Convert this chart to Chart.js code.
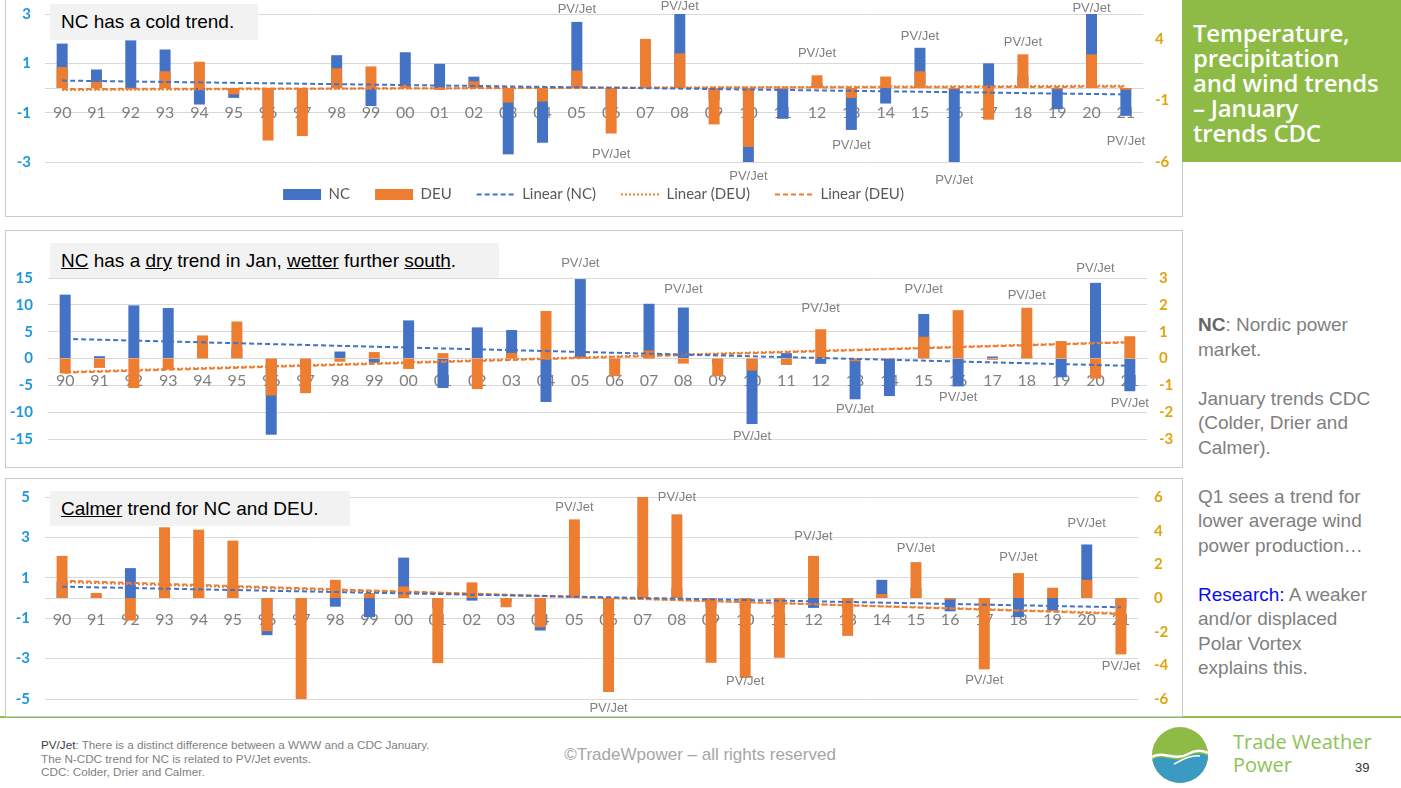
<!DOCTYPE html>
<html>
<head>
<meta charset="utf-8">
<script src="https://cdn.jsdelivr.net/npm/chart.js@4.4.0/dist/chart.umd.min.js"></script>
<style>
body { margin: 0; background: #fff; }
#slide { position: relative; width: 1401px; height: 788px; overflow: hidden; font-family: "Liberation Sans", Arial, sans-serif; }
.panel { position: absolute; box-sizing: border-box; border: 1px solid #C9C9C9; background: #fff; }
canvas { position: absolute; }
.titlebox { position: absolute; background: #F2F2F2; color: #000; font-size: 19px; box-sizing: border-box; padding-left: 11px; display: flex; align-items: center; white-space: nowrap; }
#greenbox { position: absolute; left: 1182px; top: 0; width: 219px; height: 162px; background: #8DBB45; color: #fff; font-family: "Open Sans", sans-serif; font-weight: 600; font-size: 24px; line-height: 25px; letter-spacing: -0.2px; box-sizing: border-box; padding: 20px 0 0 11px; }
#notes { position: absolute; left: 1198px; top: 313px; width: 200px; color: #7F7F7F; font-size: 19px; line-height: 24.5px; }
#notes b { color: #666; }
#notes .blue { color: #0A0AF5; }
#greenline { position: absolute; left: 0; top: 716px; width: 1401px; height: 2px; background: #92C050; }
#foot { position: absolute; left: 41px; top: 738px; color: #7F7F7F; font-size: 11.7px; line-height: 13.5px; }
#foot b { color: #404040; font-weight: normal; }
#copy { position: absolute; left: 500px; width: 400px; top: 745px; text-align: center; color: #A6A6A6; font-size: 17px; }
#brand { position: absolute; left: 1233px; top: 730px; color: #8DC353; font-family: "Open Sans", sans-serif; font-size: 20px; line-height: 23px; }
#pnum { position: absolute; left: 1355px; top: 760px; color: #333; font-size: 13px; }
#logo { position: absolute; left: 1152px; top: 727px; }
</style>
</head>
<body>
<div id="slide">
  <div id="greenline"></div>
  <div class="panel" style="left:5px; top:-2px; width:1178px; height:219px;"></div>
  <div class="panel" style="left:5px; top:230px; width:1178px; height:238px;"></div>
  <div class="panel" style="left:5px; top:478px; width:1178px; height:239px;"></div>

  <canvas id="chartTemp" width="1177" height="216" style="left:5px; top:0px;"></canvas>
  <canvas id="chartPrecip" width="1177" height="236" style="left:5px; top:231px;"></canvas>
  <canvas id="chartWind" width="1177" height="237" style="left:5px; top:479px;"></canvas>

  <div class="titlebox" style="left:50px; top:4px; width:208px; height:36px;">NC has a cold trend.</div>
  <div class="titlebox" style="left:50px; top:243px; width:449px; height:35px;"><span><u>NC</u> has a <u>dry</u> trend in Jan, <u>wetter</u> further <u>south</u>.</span></div>
  <div class="titlebox" style="left:50px; top:491px; width:300px; height:35px;"><span><u>Calmer</u> trend for NC and DEU.</span></div>

  <div id="greenbox">Temperature,<br>precipitation<br>and wind trends<br>– January<br>trends CDC</div>

  <div id="notes">
    <b>NC</b>: Nordic power<br>market.<br><br>
    January trends CDC<br>(Colder, Drier and<br>Calmer).<br><br>
    Q1 sees a trend for<br>lower average wind<br>power production…<br><br>
    <span class="blue">Research:</span> A weaker<br>and/or displaced<br>Polar Vortex<br>explains this.
  </div>

  <div id="foot"><b>PV/Jet</b>: There is a distinct difference between a WWW and a CDC January.<br>The N-CDC trend for NC is related to PV/Jet events.<br>CDC: Colder, Drier and Calmer.</div>
  <div id="copy">©TradeWpower – all rights reserved</div>

  <svg id="logo" width="56" height="56" viewBox="0 0 56 56">
    <defs><clipPath id="circ"><circle cx="28" cy="28" r="28"/></clipPath></defs>
    <g clip-path="url(#circ)">
      <rect width="56" height="56" fill="#8DBB45"/>
      <path d="M0 33 C12 25 22 38 36 30 C44 25 50 26 56 29 L56 56 L0 56 Z" fill="#3A9AC1"/>
      <path d="M0 30 C12 23 22 35 36 27 C44 22 50 23 56 26" stroke="#fff" stroke-width="2.5" fill="none"/>
      <path d="M22 37 C30 33 38 28 48 29" stroke="#fff" stroke-width="1.5" fill="none"/>
    </g>
  </svg>
  <div id="brand">Trade Weather<br>Power</div>
  <div id="pnum">39</div>
</div>

<script>
// Années (axe des catégories)
const years = ['90','91','92','93','94','95','96','97','98','99','00','01','02','03','04','05',
               '06','07','08','09','10','11','12','13','14','15','16','17','18','19','20','21'];

// Température : NC (axe gauche), DEU (axe droit)
const tempNC  = [1.8, 0.75, 1.93, 1.56, -0.67, -0.4, -1.2, -1.0, 1.33, -0.73, 1.45, 0.98, 0.46, -2.69, -2.22, 2.68,
                 -1.0, 0.5, 3.0, -0.5, -3.0, -1.25, 0.2, -1.7, -0.63, 1.63, -3.0, 1.0, 0.5, -0.86, 3.0, -1.13];
const tempDEU = [1.7, 0.52, -0.1, 1.36, 2.13, -0.52, -4.26, -3.9, 1.6, 1.75, 0.27, -0.16, 0.54, -1.18, -1.1, 1.42,
                 -3.69, 3.98, 2.81, -2.95, -4.79, -0.1, 1.03, -0.8, 0.93, 1.36, -0.1, -2.57, 2.73, -0.1, 2.73, -0.15];
const tempTrendNC     = [0.3, -0.26];
const tempTrendDEUdot = [-0.16, 0.19];
const tempTrendDEU    = [-0.08, 0.1];
const tempLeftTicks  = [-3, -1, 1, 3];
const tempRightTicks = [-6, -1, 4];
const tempPvCats = ['05','06','08','10','12','13','15','16','18','20','21'];
const tempPvY    = [3.19, -2.68, 3.32, -3.58, 1.4, -2.31, 2.09, -3.74, 1.85, 3.24, -2.15];

// Précipitations
const precipNC  = [11.9, 0.43, 9.9, 9.4, 1.5, 2.0, -14.2, -2.0, 1.3, -0.8, 7.1, -5.5, 5.8, 5.3, -8.1, 14.8,
                   -1.0, 10.2, 9.5, -1.0, -12.2, 1.0, -1.0, -7.6, -7.0, 8.3, -5.2, 0.37, 0.5, -3.5, 14.1, -6.1];
const precipDEU = [-0.56, -0.35, -1.1, -0.41, 0.86, 1.38, -1.38, -1.29, -0.12, 0.24, -0.39, 0.2, -1.14, 0.21, 1.77, 0.06,
                   -0.66, 0.3, -0.19, -0.66, -0.45, -0.24, 1.09, -0.1, 0.02, 0.81, 1.8, -0.05, 1.89, 0.65, -0.75, 0.83];
const precipTrendNC     = [3.66, -1.37];
const precipTrendDEUdot = [-0.5, 0.62];
const precipTrendDEU    = [-0.53, 0.6];
const precipLeftTicks  = [-15, -10, -5, 0, 5, 10, 15];
const precipRightTicks = [-3, -2, -1, 0, 1, 2, 3];
const precipPvCats = ['05','08','10','12','13','15','16','18','20','21'];
const precipPvY    = [17.8, 12.8, -14.5, 9.4, -9.5, 12.8, -7.2, 11.8, 16.7, -8.3];

// Vent
const windNC  = [0.8, 0.1, 1.48, 0.5, 0.5, 0.5, -1.84, -1.0, -0.43, -0.95, 2.0, -0.5, -0.13, -0.2, -1.61, 0.5,
                 -1.0, 0.5, 0.5, -0.5, -0.5, -0.5, -0.49, -0.5, 0.9, 0.5, -0.66, -0.5, -0.95, -0.63, 2.65, -0.5];
const windDEU = [2.5, 0.3, -1.34, 4.2, 4.06, 3.41, -1.97, -6.0, 1.08, 0.3, 0.69, -3.87, 0.93, -0.55, -1.74, 4.67,
                 -5.58, 6.0, 4.97, -3.85, -4.75, -3.55, 2.5, -2.25, 0.24, 2.13, -0.1, -4.24, 1.48, 0.61, 1.08, -3.35];
const windTrendNC     = [0.56, -0.46];
const windTrendDEUdot = [0.95, -0.9];
const windTrendDEU    = [1.03, -0.95];
const windLeftTicks  = [-5, -3, -1, 1, 3, 5];
const windRightTicks = [-6, -4, -2, 0, 2, 4, 6];
const windPvCats = ['05','06','08','10','12','15','17','18','20','21'];
const windPvY    = [4.5, -5.45, 5.0, -4.13, 3.07, 2.43, -4.08, 1.99, 3.67, -3.38];

const BLUE = '#4472C4';
const ORANGE = '#ED7D31';

// Étiquettes "PV/Jet" placées sur les échelles du graphique
const pvJetPlugin = {
    id: 'pvJet',
    afterDatasetsDraw(chart, args, opts) {
        const ctx = chart.ctx;
        ctx.save();
        ctx.font = '13px "Liberation Sans", Arial, sans-serif';
        ctx.fillStyle = '#7F7F7F';
        ctx.textAlign = 'center';
        ctx.textBaseline = 'middle';
        opts.cats.forEach((c, i) => {
            const x = chart.scales.x.getPixelForValue(years.indexOf(c));
            const y = chart.scales.y.getPixelForValue(opts.vals[i]);
            ctx.fillText('PV/Jet', x, y);
        });
        ctx.restore();
    }
};

function trendPoints(ends) {
    return [{ x: years[0], y: ends[0] }, { x: years[years.length - 1], y: ends[1] }];
}

// largeur fixe des axes Y, sans marge verticale ajoutée par les étiquettes
function fixAxis(width) {
    return s => {
        s.width = width;
        s.paddingTop = 0;
        s.paddingBottom = 0;
    };
}

function makeChart(id, o) {
    return new Chart(document.getElementById(id), {
        type: 'bar',
        plugins: [pvJetPlugin],
        data: {
            labels: years,
            datasets: [
                { label: 'NC', data: o.nc, yAxisID: 'y', backgroundColor: BLUE, grouped: false, order: 3,
                  barPercentage: 0.32, categoryPercentage: 1 },
                { label: 'DEU', data: o.deu, yAxisID: 'y1', backgroundColor: ORANGE, grouped: false, order: 2,
                  barPercentage: 0.32, categoryPercentage: 1 },
                { type: 'line', label: 'Linear (NC)', data: trendPoints(o.trendNC), yAxisID: 'y',
                  borderColor: BLUE, borderWidth: 2, borderDash: [5, 3], pointRadius: 0, order: 1 },
                { type: 'line', label: 'Linear (DEU)', data: trendPoints(o.trendDEUdot), yAxisID: 'y1',
                  borderColor: ORANGE, borderWidth: 2, borderDash: [2, 2], pointRadius: 0, order: 1 },
                { type: 'line', label: 'Linear (DEU)', data: trendPoints(o.trendDEU), yAxisID: 'y1',
                  borderColor: ORANGE, borderWidth: 2, borderDash: [5, 3], pointRadius: 0, order: 1 }
            ]
        },
        options: {
            responsive: false,
            animation: false,
            layout: { padding: o.padding },
            plugins: {
                tooltip: { enabled: false },
                pvJet: { cats: o.pvCats, vals: o.pvY },
                legend: {
                    display: o.legend,
                    position: 'bottom',
                    labels: {
                        usePointStyle: true,
                        pointStyleWidth: 38,
                        boxHeight: 11,
                        padding: 25,
                        color: '#595959',
                        font: { family: 'Lato', size: 15 },
                        generateLabels: chart => chart.data.datasets.map((ds, i) => ({
                            text: ds.label,
                            datasetIndex: i,
                            fillStyle: ds.type === 'line' ? 'rgba(0,0,0,0)' : ds.backgroundColor,
                            strokeStyle: ds.type === 'line' ? ds.borderColor : ds.backgroundColor,
                            lineWidth: ds.type === 'line' ? 2 : 0,
                            lineDash: ds.borderDash || [],
                            pointStyle: ds.type === 'line' ? 'line' : 'rect',
                            fontColor: '#595959',
                            hidden: false
                        }))
                    }
                }
            },
            scales: {
                x: {
                    position: { y: 0 },
                    offset: true,
                    z: 1,
                    grid: { display: false, drawTicks: false },
                    border: { display: true, color: '#D9D9D9' },
                    ticks: { color: '#7F7F7F', font: { family: 'Lato', size: 16 }, padding: o.xPad,
                             autoSkip: false, maxRotation: 0 }
                },
                y: {
                    position: 'left',
                    min: o.leftTicks[0], max: o.leftTicks[o.leftTicks.length - 1],
                    afterBuildTicks: s => { s.ticks = o.leftTicks.map(v => ({ value: v })); },
                    afterFit: fixAxis(o.leftW),
                    grid: { color: '#D9D9D9', drawTicks: false },
                    border: { display: false },
                    ticks: { color: '#1F97DA', font: { family: 'Lato', size: 15, weight: 'bold' },
                             padding: o.leftPad, callback: v => String(v) }
                },
                y1: {
                    position: 'right',
                    min: o.rightTicks[0], max: o.rightMax,
                    afterBuildTicks: s => { s.ticks = o.rightTicks.map(v => ({ value: v })); },
                    afterFit: fixAxis(o.rightW),
                    grid: { display: false, drawTicks: false },
                    border: { display: false },
                    ticks: { color: '#E0A40C', font: { family: 'Lato', size: 15, weight: 'bold' },
                             padding: o.rightPad, callback: v => String(v) }
                }
            }
        }
    });
}

makeChart('chartTemp', {
    nc: tempNC, deu: tempDEU,
    trendNC: tempTrendNC, trendDEUdot: tempTrendDEUdot, trendDEU: tempTrendDEU,
    leftTicks: tempLeftTicks, rightTicks: tempRightTicks, rightMax: 6,
    pvCats: tempPvCats, pvY: tempPvY,
    legend: true,
    padding: { top: 14, bottom: 4, left: 0, right: 0 },
    leftW: 40, rightW: 39, leftPad: 14, rightPad: 12, xPad: 15
});

makeChart('chartPrecip', {
    nc: precipNC, deu: precipDEU,
    trendNC: precipTrendNC, trendDEUdot: precipTrendDEUdot, trendDEU: precipTrendDEU,
    leftTicks: precipLeftTicks, rightTicks: precipRightTicks, rightMax: 3,
    pvCats: precipPvCats, pvY: precipPvY,
    legend: false,
    padding: { top: 47, bottom: 28, left: 0, right: 0 },
    leftW: 43, rightW: 35, leftPad: 15, rightPad: 12, xPad: 13
});

makeChart('chartWind', {
    nc: windNC, deu: windDEU,
    trendNC: windTrendNC, trendDEUdot: windTrendDEUdot, trendDEU: windTrendDEU,
    leftTicks: windLeftTicks, rightTicks: windRightTicks, rightMax: 6,
    pvCats: windPvCats, pvY: windPvY,
    legend: false,
    padding: { top: 18, bottom: 17, left: 0, right: 0 },
    leftW: 40, rightW: 44, leftPad: 15, rightPad: 16, xPad: 12
});
</script>
</body>
</html>
